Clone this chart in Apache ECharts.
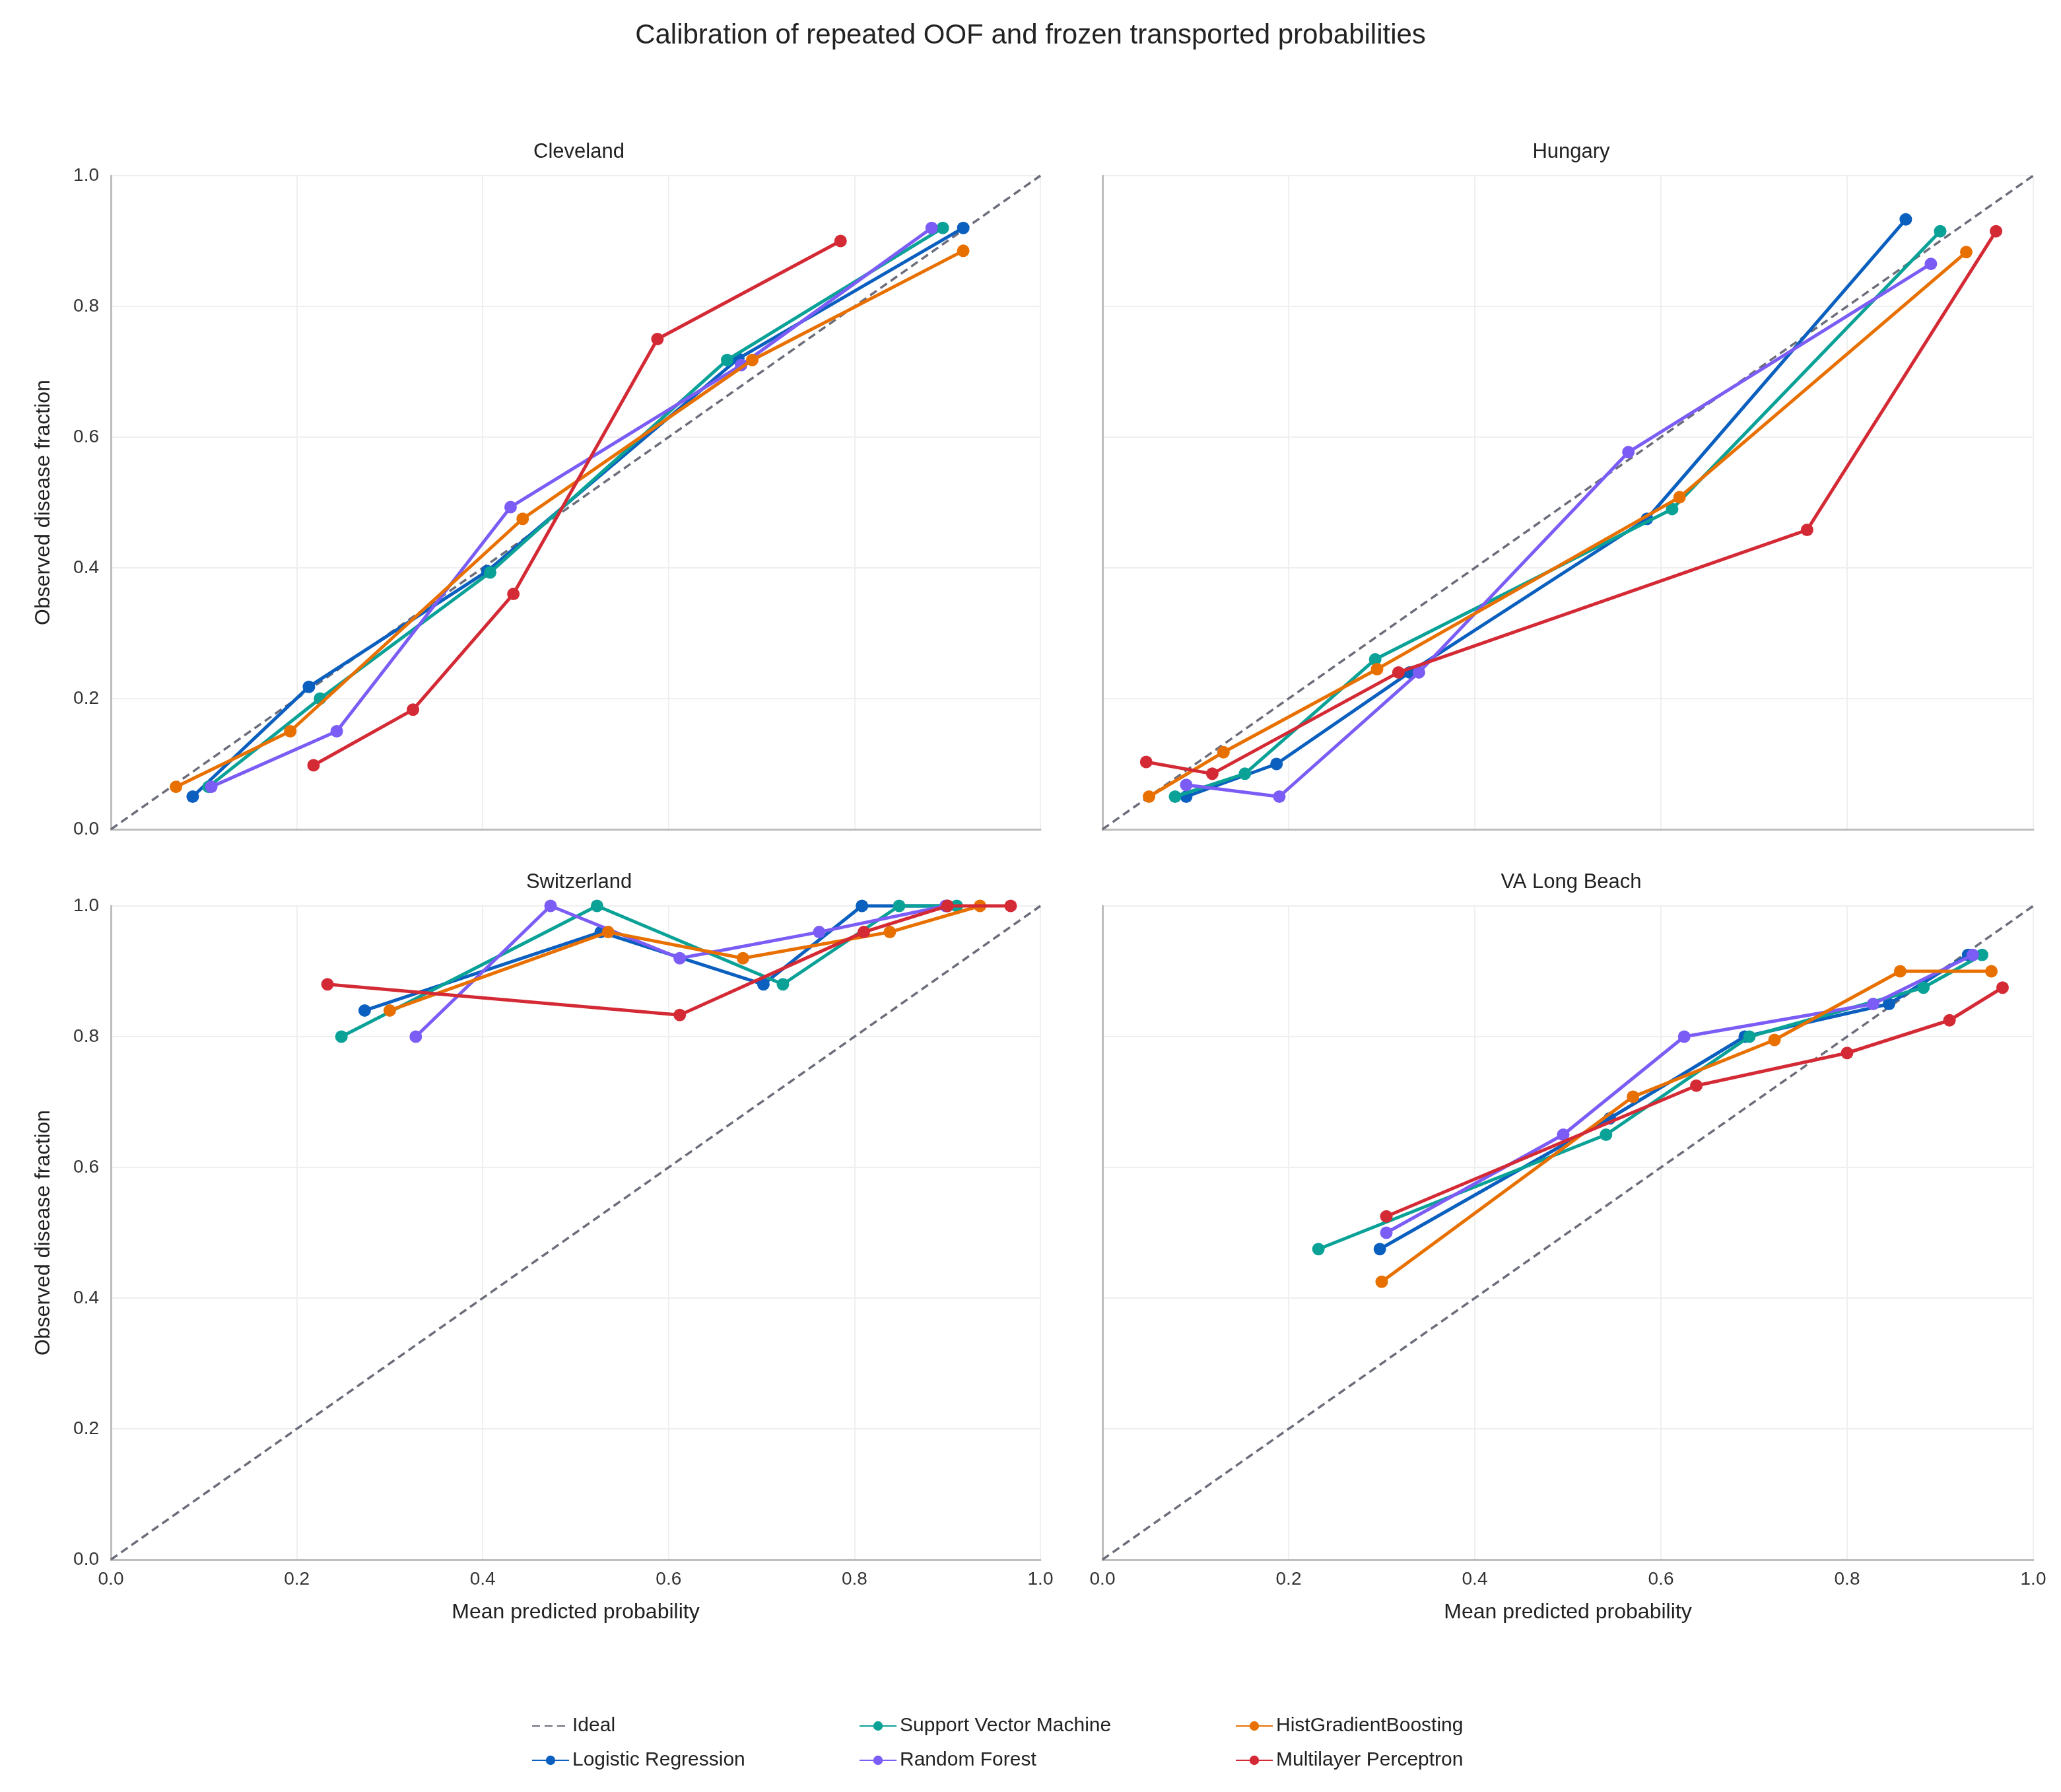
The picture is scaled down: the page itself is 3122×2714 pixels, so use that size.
<!DOCTYPE html>
<html><head><meta charset="utf-8">
<script src="https://cdn.jsdelivr.net/npm/echarts@6/dist/echarts.min.js"></script>
<style>html,body{margin:0;padding:0;background:#fff}#c{width:3122px;height:2714px}</style>
</head><body><div id="c"></div>
<script>
const panels = ["Cleveland","Hungary","Switzerland","VA Long Beach"];
const models = ["Logistic Regression","Support Vector Machine","Random Forest","HistGradientBoosting","Multilayer Perceptron"];
const colors = ["#0a5fbf","#0aa197","#7b5cf5","#e87000","#d42a35"];
const ticks = [0,0.2,0.4,0.6,0.8,1.0];
const cleveland = [
 [[0.088,0.05],[0.213,0.218],[0.405,0.395],[0.675,0.72],[0.917,0.92]],
 [[0.105,0.065],[0.225,0.2],[0.408,0.393],[0.663,0.718],[0.895,0.92]],
 [[0.108,0.065],[0.243,0.15],[0.43,0.493],[0.678,0.71],[0.883,0.92]],
 [[0.07,0.065],[0.193,0.15],[0.443,0.475],[0.69,0.718],[0.917,0.885]],
 [[0.218,0.098],[0.325,0.183],[0.433,0.36],[0.588,0.75],[0.785,0.9]]
];
const hungary = [
 [[0.09,0.05],[0.187,0.1],[0.33,0.24],[0.585,0.475],[0.863,0.933]],
 [[0.078,0.05],[0.153,0.085],[0.293,0.26],[0.612,0.49],[0.9,0.915]],
 [[0.09,0.068],[0.19,0.05],[0.34,0.24],[0.565,0.577],[0.89,0.865]],
 [[0.05,0.05],[0.13,0.118],[0.295,0.245],[0.62,0.508],[0.928,0.883]],
 [[0.047,0.103],[0.118,0.085],[0.318,0.24],[0.757,0.458],[0.96,0.915]]
];
const switzerland = [
 [[0.273,0.84],[0.527,0.96],[0.702,0.88],[0.808,1.0],[0.9,1.0]],
 [[0.248,0.8],[0.523,1.0],[0.723,0.88],[0.848,1.0],[0.91,1.0]],
 [[0.328,0.8],[0.473,1.0],[0.612,0.92],[0.762,0.96],[0.898,1.0]],
 [[0.3,0.84],[0.535,0.96],[0.68,0.92],[0.838,0.96],[0.935,1.0]],
 [[0.233,0.88],[0.612,0.833],[0.81,0.96],[0.9,1.0],[0.968,1.0]]
];
const vaLongBeach = [
 [[0.298,0.475],[0.545,0.675],[0.69,0.8],[0.845,0.85],[0.93,0.925]],
 [[0.232,0.475],[0.541,0.65],[0.695,0.8],[0.882,0.875],[0.945,0.925]],
 [[0.305,0.5],[0.495,0.65],[0.625,0.8],[0.828,0.85],[0.935,0.925]],
 [[0.3,0.425],[0.57,0.708],[0.722,0.795],[0.857,0.9],[0.955,0.9]],
 [[0.305,0.525],[0.638,0.725],[0.8,0.775],[0.91,0.825],[0.967,0.875]]
];
const idealLine = [[0,0],[1,1]];
const data = [cleveland, hungary, switzerland, vaLongBeach];

const F = "Liberation Sans, Arial, sans-serif";
const gridPos = [
 {left:168,top:266,width:1408,height:990},
 {left:1670,top:266,width:1410,height:990},
 {left:168,top:1372,width:1408,height:990},
 {left:1670,top:1372,width:1410,height:990}
];
const grid=[],xAxis=[],yAxis=[],series=[],title=[{text:"Calibration of repeated OOF and frozen transported probabilities",left:"center",top:28,textStyle:{fontFamily:F,fontSize:42,fontWeight:"normal",color:"#222"}}];
panels.forEach((p,i)=>{
  const g=gridPos[i];
  grid.push(g);
  title.push({text:p,left:g.left+g.width/2,top:g.top-56,textAlign:"center",textStyle:{fontFamily:F,fontSize:31,fontWeight:"normal",color:"#222"}});
  const bottom=i>=2, left=i%2===0;
  xAxis.push({type:"value",gridIndex:i,min:0,max:1,interval:0.2,
    name:bottom?"Mean predicted probability":"",nameLocation:"middle",nameGap:64,
    nameTextStyle:{fontFamily:F,fontSize:32,color:"#222"},
    axisLine:{show:true,lineStyle:{color:"#bdbdbd",width:3}},axisTick:{show:false},
    axisLabel:{show:bottom,fontFamily:F,fontSize:28,color:"#333",margin:16,formatter:v=>v.toFixed(1)},
    splitLine:{show:true,lineStyle:{color:"#efefef",width:2}}});
  yAxis.push({type:"value",gridIndex:i,min:0,max:1,interval:0.2,
    name:left?"Observed disease fraction":"",nameLocation:"middle",nameGap:86,
    nameTextStyle:{fontFamily:F,fontSize:32,color:"#222"},
    axisLine:{show:true,lineStyle:{color:"#bdbdbd",width:3}},axisTick:{show:false},
    axisLabel:{show:left,fontFamily:F,fontSize:28,color:"#333",margin:18,formatter:v=>v.toFixed(1)},
    splitLine:{show:true,lineStyle:{color:"#efefef",width:2}}});
  series.push({name:"Ideal",type:"line",xAxisIndex:i,yAxisIndex:i,data:idealLine,symbol:"none",
    lineStyle:{color:"#6b6e7a",width:3.5,type:[12,7]},itemStyle:{color:"#6b6e7a"},z:1,silent:true});
  models.forEach((m,k)=>{
    series.push({name:m,type:"line",xAxisIndex:i,yAxisIndex:i,data:data[i][k],symbol:"circle",symbolSize:19,
      lineStyle:{color:colors[k],width:5},itemStyle:{color:colors[k]},z:2+k,clip:false});
  });
});
const legBase={orient:"vertical",itemWidth:56,itemHeight:18,itemGap:22,top:2594,
  textStyle:{fontFamily:F,fontSize:30,color:"#222"}};
const legend=[
 Object.assign({},legBase,{left:800,data:[{name:"Ideal",itemStyle:{opacity:0}},"Logistic Regression"]}),
 Object.assign({},legBase,{left:1296,data:["Support Vector Machine","Random Forest"]}),
 Object.assign({},legBase,{left:1866,data:["HistGradientBoosting","Multilayer Perceptron"]})
];
const chart=echarts.init(document.getElementById("c"),null,{renderer:"canvas"});
chart.setOption({backgroundColor:"#fff",animation:false,title,grid,xAxis,yAxis,series,legend});
</script></body></html>
